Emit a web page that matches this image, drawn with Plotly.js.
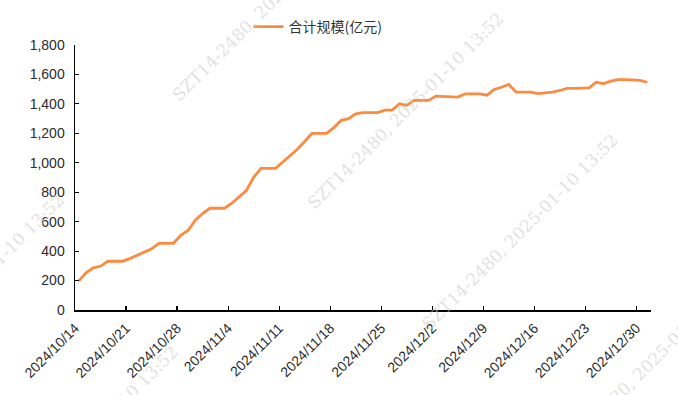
<!DOCTYPE html>
<html>
<head>
<meta charset="utf-8">
<script src="https://cdn.plot.ly/plotly-3.0.1.min.js"></script>
<style>html,body{margin:0;padding:0;background:#fff;}#chart{width:678px;height:395px;}</style>
</head>
<body>
<div id="chart"></div>
<script>
// ---- data ----
const seriesName = "合计规模(亿元)";
const dates = [
"2024-10-14","2024-10-15","2024-10-16","2024-10-17","2024-10-18","2024-10-19","2024-10-20",
"2024-10-21","2024-10-22","2024-10-23","2024-10-24","2024-10-25","2024-10-26","2024-10-27",
"2024-10-28","2024-10-29","2024-10-30","2024-10-31","2024-11-01","2024-11-02","2024-11-03",
"2024-11-04","2024-11-05","2024-11-06","2024-11-07","2024-11-08","2024-11-09","2024-11-10",
"2024-11-11","2024-11-12","2024-11-13","2024-11-14","2024-11-15","2024-11-16","2024-11-17",
"2024-11-18","2024-11-19","2024-11-20","2024-11-21","2024-11-22","2024-11-23","2024-11-24",
"2024-11-25","2024-11-26","2024-11-27","2024-11-28","2024-11-29","2024-11-30","2024-12-01",
"2024-12-02","2024-12-03","2024-12-04","2024-12-05","2024-12-06","2024-12-07","2024-12-08",
"2024-12-09","2024-12-10","2024-12-11","2024-12-12","2024-12-13","2024-12-14","2024-12-15",
"2024-12-16","2024-12-17","2024-12-18","2024-12-19","2024-12-20","2024-12-21","2024-12-22",
"2024-12-23","2024-12-24","2024-12-25","2024-12-26","2024-12-27","2024-12-28","2024-12-29",
"2024-12-30","2024-12-31"
];
const values = [
196,252,286,297,331,331,331,
349,370,393,415,453,453,453,
507,540,610,655,691,691,691,
725,768,811,901,962,962,962,
1005,1048,1092,1145,1200,1200,1200,
1239,1288,1300,1333,1340,1340,1340,
1358,1358,1401,1390,1424,1424,1424,
1453,1450,1448,1446,1468,1468,1468,
1459,1498,1513,1532,1480,1480,1480,
1470,1475,1480,1491,1505,1505,1505,
1509,1547,1538,1554,1565,1565,1565,
1560,1547
];
const tickDates = ["2024-10-14","2024-10-21","2024-10-28","2024-11-04","2024-11-11","2024-11-18",
"2024-11-25","2024-12-02","2024-12-09","2024-12-16","2024-12-23","2024-12-30"];
const tickLabels = ["2024/10/14","2024/10/21","2024/10/28","2024/11/4","2024/11/11","2024/11/18",
"2024/11/25","2024/12/2","2024/12/9","2024/12/16","2024/12/23","2024/12/30"];
const watermarkText = "SZT14-2480, 2025-01-10 13:52";

// ---- layout helpers ----
const W = 678, H = 395;
const L = 75, R = 27, T = 44, B = 85;
const pw = W - L - R, ph = H - T - B;
function px2paper(x, y){ return {x:(x-L)/pw, y:(H-B-y)/ph}; }
const wmCenters = [[270,2],[405,110],[520,232],[-34,292],[80,445],[648,365]];
const annotations = wmCenters.map(c => {
  const p = px2paper(c[0], c[1]);
  return {text: watermarkText, xref:'paper', yref:'paper', x:p.x, y:p.y,
    xanchor:'center', yanchor:'middle', showarrow:false, textangle:-45,
    font:{family:'DejaVu Serif', size:17, color:'rgba(205,205,205,0.6)'}};
});

const trace = {
  x: dates.map(d => d + " 12:00"),
  y: values,
  type: 'scatter', mode: 'lines', name: seriesName,
  line: {color:'#FA8B3F', width:2.8, shape:'linear'},
  hoverinfo: 'skip'
};

const tickFont = {family:'Liberation Sans, Arial, sans-serif', size:14, color:'#2b2b2b'};
const layout = {
  width: W, height: H,
  margin: {l:L, r:R, t:T, b:B, pad:0},
  paper_bgcolor:'#fff', plot_bgcolor:'#fff',
  showlegend: true,
  legend: {orientation:'h', x:(318-L)/pw, xanchor:'center', y:(H-B-27)/ph, yanchor:'middle',
    font:{family:'Noto Sans CJK SC, sans-serif', size:14, color:'#333'}, bgcolor:'rgba(0,0,0,0)'},
  xaxis: {
    type:'date', range:['2024-10-14 00:00','2025-01-01 00:00'],
    tickmode:'array', tickvals: tickDates, ticktext: tickLabels,
    tickangle:-45, ticks:'inside', ticklen:4, tickwidth:1.2, tickcolor:'#000',
    showline:true, linecolor:'#000', linewidth:1.5, showgrid:false, zeroline:false,
    tickfont: tickFont, ticklabelstandoff: 3
  },
  yaxis: {
    range:[0,1800], dtick:200, tick0:0, tickformat:',d',
    ticks:'inside', ticklen:4, tickwidth:1.2, tickcolor:'#000',
    showline:true, linecolor:'#000', linewidth:1.5, showgrid:false, zeroline:false,
    tickfont: tickFont, ticklabelstandoff: 6
  },
  annotations: annotations
};
Plotly.newPlot('chart', [trace], layout, {staticPlot:true, displayModeBar:false});
</script>
</body>
</html>
